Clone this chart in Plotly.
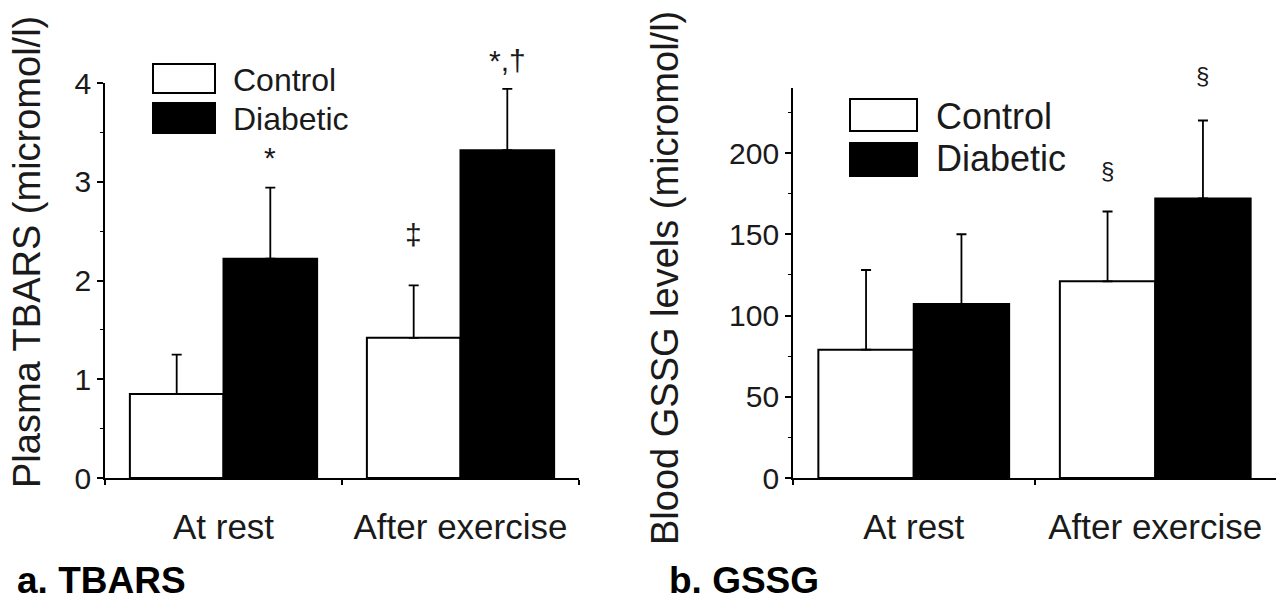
import plotly.graph_objects as go

# ---------------- data ----------------
categories = ["At rest", "After exercise"]
series_names = ["Control", "Diabetic"]

tbars_control = [0.85, 1.42]
tbars_control_err = [0.40, 0.53]
tbars_diabetic = [2.22, 3.32]
tbars_diabetic_err = [0.72, 0.62]

gssg_control = [79, 121]
gssg_control_err = [49, 43]
gssg_diabetic = [107, 172]
gssg_diabetic_err = [43, 48]

tbars_ticks = [0, 1, 2, 3, 4]
gssg_ticks = [0, 50, 100, 150, 200]

tbars_marks = [("*", 1, 0), ("‡", 0, 1), ("*,†", 1, 1)]   # (text, series, category)
gssg_marks = [("§", 0, 1), ("§", 1, 1)]

# ---------------- figure ----------------
W, H = 1279, 602
FONT = "Liberation Sans, Arial, sans-serif"
TXT = "#1a1a1a"


def px(x):
    return x / W


def py(y):
    return 1 - y / H


fig = go.Figure()

fills = ["white", "black"]


def add_panel(xa, ya, vals, errs):
    for i, (v, e) in enumerate(zip(vals, errs)):
        fig.add_trace(go.Bar(
            x=categories, y=v, name=series_names[i],
            marker=dict(color=fills[i], line=dict(color="black", width=2)),
            error_y=dict(type="data", symmetric=False, array=e,
                         arrayminus=[0] * len(e), color="black",
                         thickness=1.8, width=5),
            xaxis=xa, yaxis=ya, showlegend=False, hoverinfo="skip",
        ))


add_panel("x", "y", [tbars_control, tbars_diabetic],
          [tbars_control_err, tbars_diabetic_err])
add_panel("x2", "y2", [gssg_control, gssg_diabetic],
          [gssg_control_err, gssg_diabetic_err])

axis_common = dict(showline=True, linecolor="black", linewidth=1.8,
                   showgrid=False, zeroline=False, ticks="outside",
                   tickcolor="black", tickwidth=1.5, automargin=False)

xcommon = dict(axis_common, tickson="boundaries", ticklen=5,
               tickfont=dict(family=FONT, size=35, color=TXT),
               ticklabelstandoff=17)

fig.update_layout(
    template="none",
    width=W, height=H,
    margin=dict(l=0, r=0, t=0, b=0, pad=0, autoexpand=False),
    paper_bgcolor="white", plot_bgcolor="white",
    barmode="group", bargap=0.21, bargroupgap=0,
    showlegend=False,
    xaxis=dict(xcommon, domain=[px(105), px(579)], anchor="y"),
    xaxis2=dict(xcommon, domain=[px(793), px(1276)], anchor="y2"),
    yaxis=dict(axis_common, domain=[py(478), py(83)], range=[0, 4],
               tickvals=tbars_ticks, ticklen=6, anchor="x",
               tickfont=dict(family=FONT, size=30, color=TXT),
               minor=dict(dtick=0.5, ticks="outside", ticklen=3,
                          tickcolor="black", tickwidth=1.2)),
    yaxis2=dict(axis_common, domain=[py(478), py(88)], range=[0, 240],
                tickvals=gssg_ticks, ticklen=6, anchor="x2",
                tickfont=dict(family=FONT, size=30, color=TXT),
                minor=dict(dtick=25, ticks="outside", ticklen=3,
                           tickcolor="black", tickwidth=1.2)),
)

annotations = []
# y axis titles
annotations.append(dict(text="Plasma TBARS (micromol/l)", xref="paper", yref="paper",
                        x=px(27), y=py(252), xanchor="center", yanchor="middle",
                        textangle=-90, showarrow=False,
                        font=dict(family=FONT, size=38, color=TXT)))
annotations.append(dict(text="Blood GSSG levels (micromol/l)", xref="paper", yref="paper",
                        x=px(665), y=py(278), xanchor="center", yanchor="middle",
                        textangle=-90, showarrow=False,
                        font=dict(family=FONT, size=38, color=TXT)))
# panel labels
annotations.append(dict(text="<b>a. TBARS</b>", xref="paper", yref="paper",
                        x=px(15), y=py(580), xanchor="left", yanchor="middle",
                        showarrow=False,
                        font=dict(family=FONT, size=37, color="black")))
annotations.append(dict(text="<b>b. GSSG</b>", xref="paper", yref="paper",
                        x=px(667), y=py(580), xanchor="left", yanchor="middle",
                        showarrow=False,
                        font=dict(family=FONT, size=37, color="black")))

# significance marks
half = (1 - 0.21) / 4
mark_shift = {("x", 0): 12, ("x", 1): 32, ("x", 2): 10,
              ("x2", 0): 26, ("x2", 1): 30}


def add_marks(marks, vals, errs, xr, yr, size):
    for k, (text, s, c) in enumerate(marks):
        annotations.append(dict(text=text, xref=xr, yref=yr,
                                x=c + (-half if s == 0 else half),
                                y=vals[s][c] + errs[s][c],
                                yanchor="bottom", yshift=mark_shift[(xr, k)],
                                showarrow=False,
                                font=dict(family=FONT, size=size, color=TXT)))


add_marks(tbars_marks, [tbars_control, tbars_diabetic],
          [tbars_control_err, tbars_diabetic_err], "x", "y", 30)
add_marks(gssg_marks, [gssg_control, gssg_diabetic],
          [gssg_control_err, gssg_diabetic_err], "x2", "y2", 24)

# legends (drawn)
shapes = []


def legend(x0, x1, boxes, tx, size):
    for (y0, y1, ty), fill, name in zip(boxes, fills, series_names):
        shapes.append(dict(type="rect", xref="paper", yref="paper",
                           x0=px(x0), x1=px(x1), y0=py(y1), y1=py(y0),
                           fillcolor=fill, line=dict(color="black", width=2)))
        annotations.append(dict(text=name, xref="paper", yref="paper",
                                x=px(tx), y=py(ty), xanchor="left",
                                yanchor="middle", showarrow=False,
                                font=dict(family=FONT, size=size, color=TXT)))


legend(153, 215, [(64, 93, 80), (103, 133, 119)], 231, 32)
legend(850, 917, [(99, 131, 116), (143, 176, 158)], 934, 36)

fig.update_layout(annotations=annotations, shapes=shapes)

fig.write_html("out.html",
               config={"displayModeBar": False},
               post_script="document.body.style.margin='0';"
                           "document.body.style.overflow='hidden';")
